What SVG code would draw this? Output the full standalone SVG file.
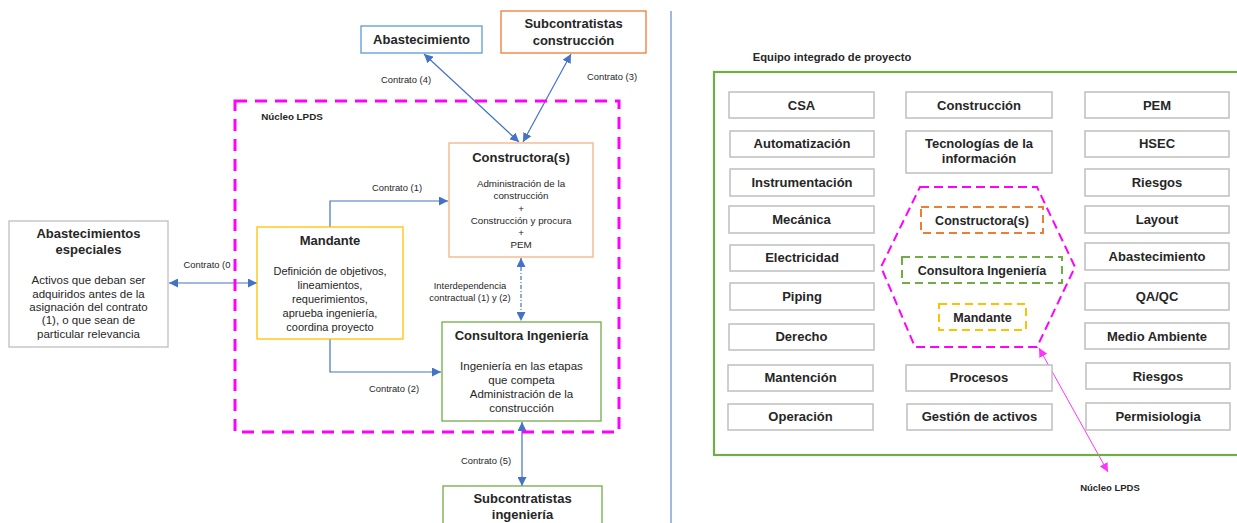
<svg xmlns="http://www.w3.org/2000/svg" width="1237" height="523" viewBox="0 0 1237 523">
  <style>
    text { font-family: "Liberation Sans", Arial, sans-serif; fill: #262626; text-anchor: middle; }
    .t { font-weight: bold; font-size: 13px; }
    .b { font-size: 11.5px; }
    .s { font-size: 9.8px; }
    .lbl { font-size: 9.4px; }
    .box { fill: #ffffff; stroke-width: 1.3; }
    .gray { fill: #ffffff; stroke: #bfbfbf; stroke-width: 1.5; }
    .conn { fill: none; stroke: #4472c4; stroke-width: 1.2; }
  </style>
  <defs>
    <marker id="ah" viewBox="0 0 10 10" refX="10" refY="5" markerWidth="9" markerHeight="9" markerUnits="userSpaceOnUse" orient="auto-start-reverse">
      <path d="M0,0 L10,5 L0,10 z" fill="#4472c4"/>
    </marker>
    <marker id="ahm" viewBox="0 0 10 10" refX="10" refY="5" markerWidth="9" markerHeight="9" markerUnits="userSpaceOnUse" orient="auto-start-reverse">
      <path d="M0,0 L10,5 L0,10 z" fill="#ff33ff"/>
    </marker>
  </defs>

  <rect width="1237" height="523" fill="#ffffff"/>

  <!-- divider between the two panels -->
  <line x1="671" y1="11" x2="671" y2="523" stroke="#4472c4" stroke-width="1"/>

  <!-- ===== Left panel: contractual scheme ===== -->
  <g id="connectors">
    <line class="conn" x1="424" y1="54" x2="519" y2="142" marker-start="url(#ah)" marker-end="url(#ah)"/>
    <line class="conn" x1="571" y1="54" x2="523" y2="142" marker-start="url(#ah)" marker-end="url(#ah)"/>
    <polyline class="conn" points="330,227 330,201 448,201" marker-end="url(#ah)"/>
    <polyline class="conn" points="330,339 330,372 441,372" marker-end="url(#ah)"/>
    <line class="conn" x1="169" y1="283" x2="257" y2="283" stroke-width="1.5" marker-start="url(#ah)" marker-end="url(#ah)"/>
    <line class="conn" x1="521" y1="258" x2="521" y2="321" stroke-dasharray="4,2,1,2" marker-start="url(#ah)" marker-end="url(#ah)"/>
    <line class="conn" x1="522" y1="422" x2="522" y2="486" stroke-width="1.5" marker-start="url(#ah)" marker-end="url(#ah)"/>
    <line x1="1039" y1="348" x2="1108" y2="472" stroke="#ff33ff" stroke-width="1" marker-start="url(#ahm)" marker-end="url(#ahm)"/>
  </g>

  <g id="labels">
    <text class="lbl" x="406" y="83">Contrato (4)</text>
    <text class="lbl" x="612" y="80">Contrato (3)</text>
    <text class="lbl" x="397" y="191">Contrato (1)</text>
    <text class="lbl" x="394" y="392">Contrato (2)</text>
    <text class="lbl" x="207" y="268">Contrato (0</text>
    <text class="lbl" x="470" y="289">Interdependencia</text>
    <text class="lbl" x="470" y="301">contractual (1) y (2)</text>
    <text class="lbl" x="486" y="464">Contrato (5)</text>
  </g>

  <!-- LPDS core boundary -->
  <g id="nucleo-lpds">
    <rect x="235" y="101" width="384" height="331" fill="none" stroke="#ff00ff" stroke-width="3" stroke-dasharray="12,8"/>
    <text x="292" y="120" style="font-size:9.8px;font-weight:bold">Núcleo LPDS</text>
  </g>

  <g id="abastecimiento">
    <rect class="box" x="361" y="26" width="121" height="27" stroke="#5b9bd5"/>
    <text class="t" x="421.5" y="44">Abastecimiento</text>
  </g>

  <g id="subcontratistas-construccion">
    <rect class="box" x="501" y="11" width="145" height="42" stroke="#ed7d31"/>
    <text class="t" x="573.5" y="28">Subcontratistas</text>
    <text class="t" x="573.5" y="45">construcción</text>
  </g>

  <g id="constructoras">
    <rect class="box" x="449" y="143" width="144" height="114" stroke="#f4b183" stroke-width="1.5"/>
    <text class="t" x="521" y="162">Constructora(s)</text>
    <text class="s" x="521" y="187">Administración de la</text>
    <text class="s" x="521" y="199">construcción</text>
    <text class="s" x="521" y="212">+</text>
    <text class="s" x="521" y="224">Construcción y procura</text>
    <text class="s" x="521" y="236">+</text>
    <text class="s" x="521" y="248">PEM</text>
  </g>

  <g id="mandante">
    <rect class="box" x="257" y="227" width="146" height="112" stroke="#ffc000" stroke-width="1.5"/>
    <text class="t" x="330" y="245">Mandante</text>
    <text class="b" x="330" y="275" style="font-size:11px">Definición de objetivos,</text>
    <text class="b" x="330" y="289" style="font-size:11px">lineamientos,</text>
    <text class="b" x="330" y="303" style="font-size:11px">requerimientos,</text>
    <text class="b" x="330" y="317" style="font-size:11px">aprueba ingeniería,</text>
    <text class="b" x="330" y="331" style="font-size:11px">coordina proyecto</text>
  </g>

  <g id="consultora-ingenieria">
    <rect class="box" x="442" y="322" width="159" height="99" stroke="#70ad47" stroke-width="1.5"/>
    <text class="t" x="521.5" y="340">Consultora Ingeniería</text>
    <text class="b" x="521.5" y="370">Ingeniería en las etapas</text>
    <text class="b" x="521.5" y="384">que competa</text>
    <text class="b" x="521.5" y="398">Administración de la</text>
    <text class="b" x="521.5" y="412">construcción</text>
  </g>

  <g id="subcontratistas-ingenieria">
    <rect class="box" x="443" y="486" width="159" height="45" stroke="#70ad47" stroke-width="1.5"/>
    <text class="t" x="522.5" y="503">Subcontratistas</text>
    <text class="t" x="522.5" y="519">ingeniería</text>
  </g>

  <g id="abastecimientos-especiales">
    <rect class="box" x="9" y="221" width="159" height="126" stroke="#bfbfbf" stroke-width="1.5"/>
    <text class="t" x="88.5" y="238">Abastecimientos</text>
    <text class="t" x="88.5" y="254">especiales</text>
    <text class="b" x="88.5" y="284">Activos que deban ser</text>
    <text class="b" x="88.5" y="298">adquiridos antes de la</text>
    <text class="b" x="88.5" y="311">asignación del contrato</text>
    <text class="b" x="88.5" y="324">(1), o que sean de</text>
    <text class="b" x="88.5" y="338">particular relevancia</text>
  </g>

  <!-- ===== Right panel: integrated project team ===== -->
  <g id="equipo-integrado">
    <text x="832" y="61" style="font-size:11.2px;font-weight:bold">Equipo integrado de proyecto</text>
    <rect x="714" y="72" width="530" height="383" fill="none" stroke="#70ad47" stroke-width="2.2"/>
  </g>

  <g id="col-1">
    <g id="csa"><rect class="gray" x="729" y="92" width="145" height="26"/><text class="t" x="801.5" y="110">CSA</text></g>
    <g id="automatizacion"><rect class="gray" x="730" y="131" width="144" height="26"/><text class="t" x="802" y="148">Automatización</text></g>
    <g id="instrumentacion"><rect class="gray" x="730" y="169" width="144" height="27"/><text class="t" x="802" y="187">Instrumentación</text></g>
    <g id="mecanica"><rect class="gray" x="729" y="206" width="145" height="27"/><text class="t" x="801.5" y="224">Mecánica</text></g>
    <g id="electricidad"><rect class="gray" x="730" y="245" width="144" height="26"/><text class="t" x="802" y="262">Electricidad</text></g>
    <g id="piping"><rect class="gray" x="730" y="283" width="144" height="27"/><text class="t" x="802" y="301">Piping</text></g>
    <g id="derecho"><rect class="gray" x="729" y="324" width="145" height="26"/><text class="t" x="801.5" y="341">Derecho</text></g>
    <g id="mantencion"><rect class="gray" x="728" y="365" width="145" height="26"/><text class="t" x="800.5" y="382">Mantención</text></g>
    <g id="operacion"><rect class="gray" x="728" y="404" width="145" height="26"/><text class="t" x="800.5" y="421">Operación</text></g>
  </g>

  <g id="col-2">
    <g id="construccion"><rect class="gray" x="906" y="92" width="146" height="26"/><text class="t" x="979" y="110">Construcción</text></g>
    <g id="tecnologias"><rect class="gray" x="906" y="131" width="146" height="42"/><text class="t" x="979" y="148">Tecnologías de la</text><text class="t" x="979" y="163">información</text></g>
    <g id="procesos"><rect class="gray" x="906" y="365" width="146" height="26"/><text class="t" x="979" y="382">Procesos</text></g>
    <g id="gestion-activos"><rect class="gray" x="907" y="404" width="145" height="26"/><text class="t" x="979.5" y="421">Gestión de activos</text></g>
  </g>

  <g id="col-3">
    <g id="pem"><rect class="gray" x="1085" y="92" width="144" height="26"/><text class="t" x="1157" y="110">PEM</text></g>
    <g id="hsec"><rect class="gray" x="1085" y="131" width="144" height="26"/><text class="t" x="1157" y="148">HSEC</text></g>
    <g id="riesgos-1"><rect class="gray" x="1085" y="169" width="144" height="27"/><text class="t" x="1157" y="187">Riesgos</text></g>
    <g id="layout"><rect class="gray" x="1085" y="206" width="144" height="27"/><text class="t" x="1157" y="224">Layout</text></g>
    <g id="abastecimiento-eip"><rect class="gray" x="1085" y="243" width="144" height="27"/><text class="t" x="1157" y="261">Abastecimiento</text></g>
    <g id="qaqc"><rect class="gray" x="1085" y="283" width="144" height="27"/><text class="t" x="1157" y="301">QA/QC</text></g>
    <g id="medio-ambiente"><rect class="gray" x="1085" y="323" width="144" height="26"/><text class="t" x="1157" y="341">Medio Ambiente</text></g>
    <g id="riesgos-2"><rect class="gray" x="1086" y="363" width="144" height="26"/><text class="t" x="1158" y="381">Riesgos</text></g>
    <g id="permisiologia"><rect class="gray" x="1086" y="403" width="144" height="27"/><text class="t" x="1158" y="421">Permisiologia</text></g>
  </g>

  <!-- LPDS core inside the team -->
  <g id="nucleo-lpds-eip">
    <polygon points="920,187 1037,187 1075,267 1037,347 915,347 881,267" fill="none" stroke="#ff00ff" stroke-width="2" stroke-dasharray="9,5"/>
    <text x="1110" y="491" style="font-size:9.5px;font-weight:bold">Núcleo LPDS</text>
  </g>
  <g id="constructoras-eip">
    <rect x="921" y="207" width="122" height="26" fill="none" stroke="#ed7d31" stroke-width="2" stroke-dasharray="8,5"/>
    <text x="982" y="225" style="font-size:12.5px;font-weight:bold">Constructora(s)</text>
  </g>
  <g id="consultora-eip">
    <rect x="902" y="257" width="160" height="26" fill="none" stroke="#70ad47" stroke-width="2" stroke-dasharray="8,5"/>
    <text x="982" y="275" style="font-size:12.5px;font-weight:bold">Consultora Ingeniería</text>
  </g>
  <g id="mandante-eip">
    <rect x="939" y="304" width="87" height="26" fill="none" stroke="#ffc000" stroke-width="2" stroke-dasharray="8,5"/>
    <text x="982.5" y="322" style="font-size:12.5px;font-weight:bold">Mandante</text>
  </g>
</svg>
